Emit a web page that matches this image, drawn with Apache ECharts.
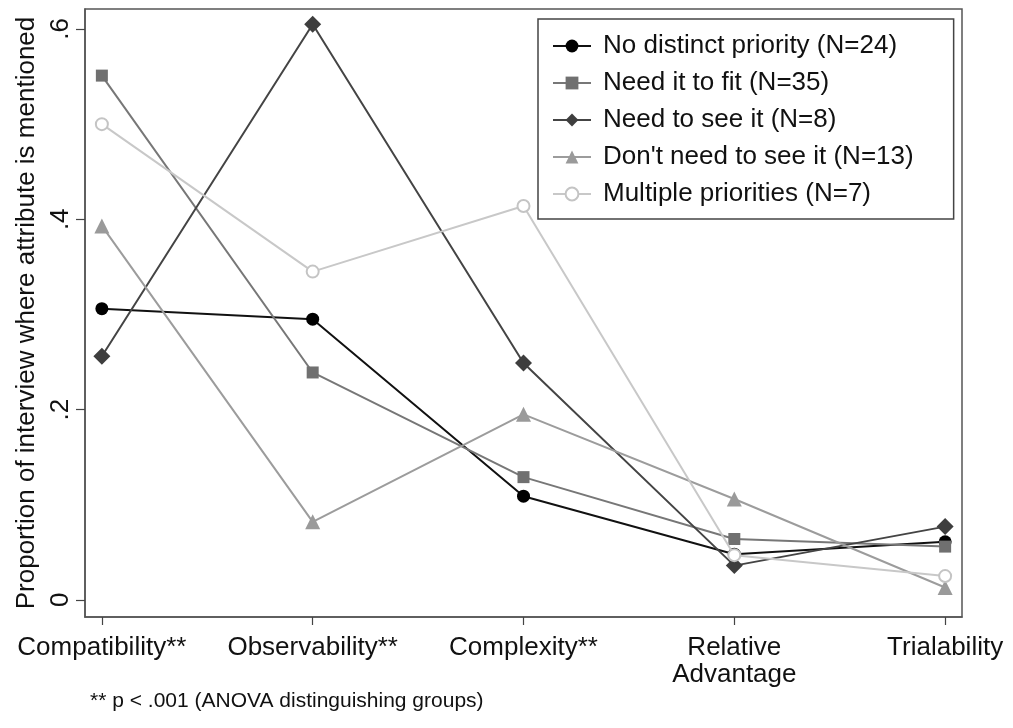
<!DOCTYPE html>
<html>
<head>
<meta charset="utf-8">
<script src="https://cdn.jsdelivr.net/npm/echarts@6/dist/echarts.min.js"></script>
<style>html,body{margin:0;padding:0;background:#fff}#c{width:1013px;height:728px}</style>
</head>
<body>
<div id="c"></div>
<script>
var categories = ['Compatibility**', 'Observability**', 'Complexity**', 'Relative\nAdvantage', 'Trialability'];
var yTicks = [0, 0.2, 0.4, 0.6];
var yTickLabels = ['0', '.2', '.4', '.6'];
var seriesNames = ['No distinct priority (N=24)', 'Need it to fit (N=35)', 'Need to see it (N=8)', "Don't need to see it (N=13)", 'Multiple priorities (N=7)'];
var noDistinct = [0.306, 0.295, 0.109, 0.048, 0.061];
var needFit = [0.551, 0.239, 0.129, 0.064, 0.056];
var needSee = [0.256, 0.605, 0.249, 0.036, 0.077];
var dontNeedSee = [0.393, 0.082, 0.195, 0.106, 0.013];
var multiple = [0.500, 0.345, 0.414, 0.047, 0.025];
var footnote = '** p < .001 (ANOVA distinguishing groups)';
var yTitle = 'Proportion of interview where attribute is mentioned';

function pts(arr){ return arr.map(function(v,i){ return [i, v]; }); }
var FONT = '"Liberation Sans", Arial, Helvetica, sans-serif';
var styles = [
  {color:'#000000', symbol:'circle', size:13, line:'#111111'},
  {color:'#707070', symbol:'rect', size:12, line:'#777777'},
  {color:'#3e3e3e', symbol:'diamond', size:17, line:'#444444'},
  {color:'#9a9a9a', symbol:'triangle', size:15, line:'#9c9c9c'},
  {color:'#c4c4c4', symbol:'emptyCircle', size:12, line:'#c8c8c8'}
];
var data = [noDistinct, needFit, needSee, dontNeedSee, multiple];
var series = data.map(function(d, k){
  var s = styles[k];
  return {
    name: seriesNames[k], type:'line', data: pts(d),
    symbol: s.symbol, symbolSize: s.size, showAllSymbol:true,
    lineStyle:{color:s.line, width:2},
    itemStyle: s.symbol==='emptyCircle' ? {color:s.color, borderWidth:1.8} : {color:s.color, borderWidth:0},
    emphasis:{disabled:true}, animation:false, z: 2+k
  };
});
var chart = echarts.init(document.getElementById('c'), null, {renderer:'canvas'});
chart.setOption({
  backgroundColor:'#ffffff',
  animation:false,
  grid:{left:85, top:9, right:51, bottom:111, show:true, borderColor:'#555555', borderWidth:1.5, backgroundColor:'#ffffff'},
  xAxis:{
    type:'value', min:-0.08, max:4.08,
    splitLine:{show:false},
    axisLine:{show:true, onZero:false, lineStyle:{color:'#555555', width:1.5}},
    axisTick:{show:true, length:8, lineStyle:{color:'#444444', width:1.2}, customValues:[0,1,2,3,4]},
    axisLabel:{customValues:[0,1,2,3,4], formatter:function(v){ return categories[Math.round(v)]; },
      fontSize:26, color:'#111', fontFamily:FONT, margin:17, lineHeight:27, showMinLabel:true, showMaxLabel:true}
  },
  yAxis:{
    type:'value', min:-0.018, max:0.621,
    name: yTitle, nameLocation:'middle', nameGap:35,
    nameTextStyle:{fontSize:26, color:'#111', fontFamily:FONT},
    splitLine:{show:false},
    axisLine:{show:true, onZero:false, lineStyle:{color:'#555555', width:1.5}},
    axisTick:{show:true, length:9, lineStyle:{color:'#444444', width:1.2}, customValues:yTicks},
    axisLabel:{customValues:yTicks, rotate:90, formatter:function(v){ var i = yTicks.findIndex(function(t){return Math.abs(t-v)<1e-6;}); return i>=0 ? yTickLabels[i] : ''; },
      fontSize:26, color:'#111', fontFamily:FONT, margin:11}
  },
  legend:{
    show:true, orient:'vertical', left:538, top:19,
    itemWidth:38, itemHeight:16, itemGap:11,
    borderColor:'#444444', borderWidth:1.5, backgroundColor:'#ffffff',
    padding:[14, 40, 12, 14],
    textStyle:{fontSize:26, lineHeight:26, color:'#111', fontFamily:FONT, padding:[0,0,0,7]},
    data: seriesNames
  },
  graphic:[{type:'text', left:90, top:691, style:{text:footnote, font:'21px '+FONT, fill:'#111'}}],
  series: series
});
</script>
</body>
</html>
